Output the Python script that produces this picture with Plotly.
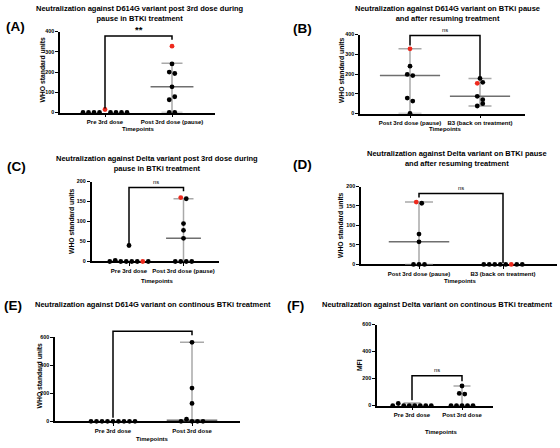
import plotly.graph_objects as go

W, H = 560, 448
FONT = "Liberation Sans"
RED = "#ee2a1e"

# ---------------- data ----------------
A_categories = ["Pre 3rd dose", "Post 3rd dose (pause)"]
A_pre_values = [0, 0, 0, 0, 15, 0, 0, 0, 0]
A_pre_red = [0, 0, 0, 0, 1, 0, 0, 0, 0]
A_post_values = [328, 240, 200, 193, 127, 63, 78, 0, 0]
A_post_red = [1, 0, 0, 0, 0, 0, 0, 0, 0]
A_median = [0, 127]
A_low = [0, 0]
A_high = [0, 243]
A_yticks = [0, 100, 200, 300, 400]
A_bracket = [20, 378, 360]  # left end, top, right end
A_sig = "**"

B_categories = ["Post 3rd dose (pause)", "B3 (back on treatment)"]
B_g1_values = [328, 240, 198, 192, 78, 63, 0]
B_g1_red = [1, 0, 0, 0, 0, 0, 0]
B_g2_values = [178, 153, 158, 87, 70, 38, 50]
B_g2_red = [0, 1, 0, 0, 0, 0, 0]
B_median = [192, 87]
B_low = [0, 38]
B_high = [328, 178]
B_yticks = [0, 100, 200, 300, 400]
B_bracket = [345, 395, 185]
B_sig = "ns"

C_categories = ["Pre 3rd dose", "Post 3rd dose (pause)"]
C_pre_values = [40, 0, 3, 0, 0, 0, 0, 0, 0]
C_pre_red = [0, 0, 0, 0, 0, 0, 0, 1, 0]
C_post_values = [160, 157, 95, 78, 58, 0, 0, 0, 0]
C_post_red = [1, 0, 0, 0, 0, 0, 0, 0, 0]
C_median = [0, 58]
C_low = [0, 0]
C_high = [0, 157]
C_yticks = [0, 50, 100, 150, 200]
C_bracket = [42, 185, 176]
C_sig = "ns"

D_categories = ["Post 3rd dose (pause)", "B3 (back on treatment)"]
D_g1_values = [160, 157, 78, 58, 0, 0, 0]
D_g1_red = [1, 0, 0, 0, 0, 0, 0]
D_g2_values = [0, 0, 0, 0, 0, 0, 0, 0]
D_g2_red = [0, 0, 0, 0, 0, 1, 0, 0]
D_median = [58, 0]
D_low = [0, 0]
D_high = [160, 0]
D_yticks = [0, 50, 100, 150, 200]
D_bracket = [172, 182, 4]
D_sig = "ns"

E_categories = ["Pre 3rd dose", "Post 3rd dose"]
E_pre_values = [0, 0, 0, 0, 0, 0, 0, 0, 0]
E_pre_red = [0, 0, 0, 0, 0, 0, 0, 0, 0]
E_post_values = [565, 238, 128, 0, 15, 0, 0, 0]
E_post_red = [0, 0, 0, 0, 0, 0, 0, 0]
E_median = [0, 8]
E_low = [0, 0]
E_high = [0, 565]
E_yticks = [0, 200, 400, 600]
E_bracket = [25, 644, 616]
E_sig = "ns"

F_categories = ["Pre 3rd dose", "Post 3rd dose"]
F_pre_values = [0, 15, 0, 0, 0, 0, 0, 0]
F_pre_red = [0, 0, 0, 0, 0, 0, 0, 0]
F_post_values = [145, 90, 85, 0, 0, 0, 0, 0]
F_post_red = [0, 0, 0, 0, 0, 0, 0, 0]
F_median = [0, 0]
F_low = [0, 0]
F_high = [18, 145]
F_yticks = [0, 200, 400, 600]
F_bracket = [40, 220, 180]
F_sig = "ns"

# ---------------- layout geometry (pixels) ----------------
panels = [
    dict(letter="(A)", cats=A_categories, groups=[(A_pre_values, A_pre_red), (A_post_values, A_post_red)],
         med=A_median, lo=A_low, hi=A_high, yt=A_yticks, br=A_bracket, sig=A_sig,
         ax=60, xend=215, c0=105, c1=172, y0=111, ytop=29,
         title="Neutralization against D614G variant post 3rd dose during<br>pause in BTKi treatment",
         tpos=(140, 10.5), lpos=(15, 24), ytitle="WHO standard units", ytpos=(42.5, 68), xtpos=(138, 128),
         mw=0.32, cap=10.5),
    dict(letter="(B)", cats=B_categories, groups=[(B_g1_values, B_g1_red), (B_g2_values, B_g2_red)],
         med=B_median, lo=B_low, hi=B_high, yt=B_yticks, br=B_bracket, sig=B_sig,
         ax=360, xend=525, c0=410, c1=480, y0=112, ytop=32,
         title="Neutralization against D614G variant on BTKi pause<br>and after resuming treatment",
         tpos=(447, 11), lpos=(302, 26), ytitle="WHO standard units", ytpos=(341, 68), xtpos=(446, 128),
         mw=0.43, cap=11.5),
    dict(letter="(C)", cats=C_categories, groups=[(C_pre_values, C_pre_red), (C_post_values, C_post_red)],
         med=C_median, lo=C_low, hi=C_high, yt=C_yticks, br=C_bracket, sig=C_sig,
         ax=91.5, xend=219, c0=129, c1=183.5, y0=262, ytop=181,
         title="Neutralization against Delta variant post 3rd dose during<br>pause in BTKi treatment",
         tpos=(157, 163), lpos=(16, 166), ytitle="WHO standard units", ytpos=(71, 221), xtpos=(157, 282),
         mw=0.32, cap=10),
    dict(letter="(D)", cats=D_categories, groups=[(D_g1_values, D_g1_red), (D_g2_values, D_g2_red)],
         med=D_median, lo=D_low, hi=D_high, yt=D_yticks, br=D_bracket, sig=D_sig,
         ax=361, xend=557, c0=419, c1=503, y0=265, ytop=186,
         title="Neutralization against Delta variant on BTKi pause<br>and after resuming treatment",
         tpos=(457, 158), lpos=(302, 164), ytitle="WHO standard units", ytpos=(341, 225), xtpos=(460, 282),
         mw=0.36, cap=14),
    dict(letter="(E)", cats=E_categories, groups=[(E_pre_values, E_pre_red), (E_post_values, E_post_red)],
         med=E_median, lo=E_low, hi=E_high, yt=E_yticks, br=E_bracket, sig=E_sig,
         ax=55, xend=240, c0=113, c1=192, y0=424, ytop=339,
         title="Neutralization against D614G variant on continous BTKi treatment",
         tpos=(153, 306), lpos=(13, 307), ytitle="WHO standard units", ytpos=(39.5, 378), xtpos=(153, 442),
         mw=0.32, cap=12),
    dict(letter="(F)", cats=F_categories, groups=[(F_pre_values, F_pre_red), (F_post_values, F_post_red)],
         med=F_median, lo=F_low, hi=F_high, yt=F_yticks, br=F_bracket, sig=F_sig,
         ax=377, xend=493, c0=412, c1=462, y0=408, ytop=326,
         title="Neutralization against Delta variant on continous BTKi treatment",
         tpos=(437, 306), lpos=(295, 307), ytitle="MFI", ytpos=(359, 367), xtpos=(441, 435),
         mw=0.32, cap=8.5),
]


def swarm(values, px_x, px_y, spacing=5.5, thr=3.5):
    n = len(values)
    order = sorted(range(n), key=lambda i: -values[i])
    rows = []
    for i in order:
        if rows and abs(values[rows[-1][-1]] - values[i]) * px_y < thr:
            rows[-1].append(i)
        else:
            rows.append([i])
    offs = [0.0] * n
    for r in rows:
        r = sorted(r)
        k = len(r)
        for j, i in enumerate(r):
            offs[i] = (j - (k - 1) / 2) * spacing / px_x
    return offs


fig = go.Figure()
annotations = []
shapes = []


def px2paper(x, y):
    return x / W, 1 - y / H


for k, p in enumerate(panels):
    n = "" if k == 0 else str(k + 1)
    xa, ya = "x" + n, "y" + n
    s = p["c1"] - p["c0"]
    xr = [-(p["c0"] - p["ax"]) / s, 1 + (p["xend"] - p["c1"]) / s]
    ymax = p["yt"][-1]
    px_y = (p["y0"] - p["ytop"]) / ymax

    lay_x = dict(domain=[p["ax"] / W, p["xend"] / W], range=xr, anchor=ya,
                 showline=True, linecolor="black", linewidth=1.5, layer="below traces",
                 tickmode="array", tickvals=[0, 1], ticktext=p["cats"],
                 ticks="outside", ticklen=3, tickwidth=1.3, tickcolor="black",
                 tickfont=dict(family=FONT, size=6.0, color="black", weight="bold"),
                 showgrid=False, zeroline=False, fixedrange=True)
    lay_y = dict(domain=[1 - p["y0"] / H, 1 - p["ytop"] / H], range=[0, ymax], anchor=xa,
                 showline=True, linecolor="black", linewidth=1.5, layer="below traces",
                 tickmode="array", tickvals=p["yt"], ticks="outside", ticklen=3, tickwidth=1.3,
                 tickcolor="black", tickfont=dict(family=FONT, size=5.3, color="black", weight="bold"),
                 showgrid=False, zeroline=False, fixedrange=True)
    fig.update_layout(**{"xaxis" + n: lay_x, "yaxis" + n: lay_y})

    # median / range bars
    for g in range(2):
        if p["hi"][g] > p["lo"][g]:
            fig.add_trace(go.Scatter(
                x=[g], y=[p["med"][g]], mode="markers", xaxis=xa, yaxis=ya,
                marker=dict(size=1, opacity=0), showlegend=False, hoverinfo="skip",
                error_y=dict(type="data", symmetric=False,
                             array=[p["hi"][g] - p["med"][g]],
                             arrayminus=[p["med"][g] - p["lo"][g]],
                             width=p["cap"], thickness=1.5, color="#a9a9a9")))
        if p["med"][g] > 0:
            fig.add_trace(go.Scatter(
                x=[g - p["mw"], g + p["mw"]], y=[p["med"][g]] * 2, mode="lines",
                xaxis=xa, yaxis=ya, line=dict(color="#6f6f6f", width=1.5),
                showlegend=False, hoverinfo="skip"))

    # points
    for g, (vals, red) in enumerate(p["groups"]):
        offs = swarm(vals, s, px_y)
        bx = [g + o for o, r in zip(offs, red) if not r]
        by = [v for v, r in zip(vals, red) if not r]
        rx = [g + o for o, r in zip(offs, red) if r]
        ry = [v for v, r in zip(vals, red) if r]
        fig.add_trace(go.Scatter(x=bx, y=by, mode="markers", xaxis=xa, yaxis=ya, cliponaxis=False,
                                 marker=dict(size=4.8, color="black"), showlegend=False))
        if rx:
            fig.add_trace(go.Scatter(x=rx, y=ry, mode="markers", xaxis=xa, yaxis=ya, cliponaxis=False,
                                     marker=dict(size=4.8, color=RED), showlegend=False))

    # significance bracket
    yl, yt, yr = (v / ymax for v in p["br"])
    shapes.append(dict(type="path", xref=xa, yref=ya + " domain",
                       path=f"M 0,{yl} L 0,{yt} L 1,{yt} L 1,{yr}",
                       line=dict(color="black", width=1.5)))
    sig_bold = p["sig"] == "**"
    annotations.append(dict(xref=xa, yref=ya, x=0.5, y=p["br"][1], yanchor="bottom", yshift=-1 if sig_bold else 1,
                            text=("<b>%s</b>" % p["sig"]) if sig_bold else p["sig"], showarrow=False,
                            font=dict(family=FONT, size=9.5 if sig_bold else 5.8, color="black")))

    # texts
    tx, ty = px2paper(*p["tpos"])
    annotations.append(dict(xref="paper", yref="paper", x=tx, y=ty, text="<b>%s</b>" % p["title"],
                            showarrow=False, xanchor="center", yanchor="middle",
                            font=dict(family=FONT, size=7.5, color="black")))
    lx, ly = px2paper(*p["lpos"])
    annotations.append(dict(xref="paper", yref="paper", x=lx, y=ly, text="<b>%s</b>" % p["letter"],
                            showarrow=False, xanchor="center", yanchor="middle",
                            font=dict(family=FONT, size=13.5, color="black")))
    yx, yy = px2paper(*p["ytpos"])
    annotations.append(dict(xref="paper", yref="paper", x=yx, y=yy, text="<b>%s</b>" % p["ytitle"],
                            showarrow=False, xanchor="center", yanchor="middle", textangle=-90,
                            font=dict(family=FONT, size=6.8, color="black")))
    xx, xy = px2paper(*p["xtpos"])
    annotations.append(dict(xref="paper", yref="paper", x=xx, y=xy, text="<b>Timepoints</b>",
                            showarrow=False, xanchor="center", yanchor="middle",
                            font=dict(family=FONT, size=6.0, color="black")))

fig.update_layout(width=W, height=H, margin=dict(l=0, r=0, t=0, b=0),
                  paper_bgcolor="white", plot_bgcolor="white", showlegend=False,
                  annotations=annotations, shapes=shapes)

fig.write_html("out.html", config={"displayModeBar": False},
               post_script="document.body.style.margin='0px';document.body.style.overflow='hidden';")
